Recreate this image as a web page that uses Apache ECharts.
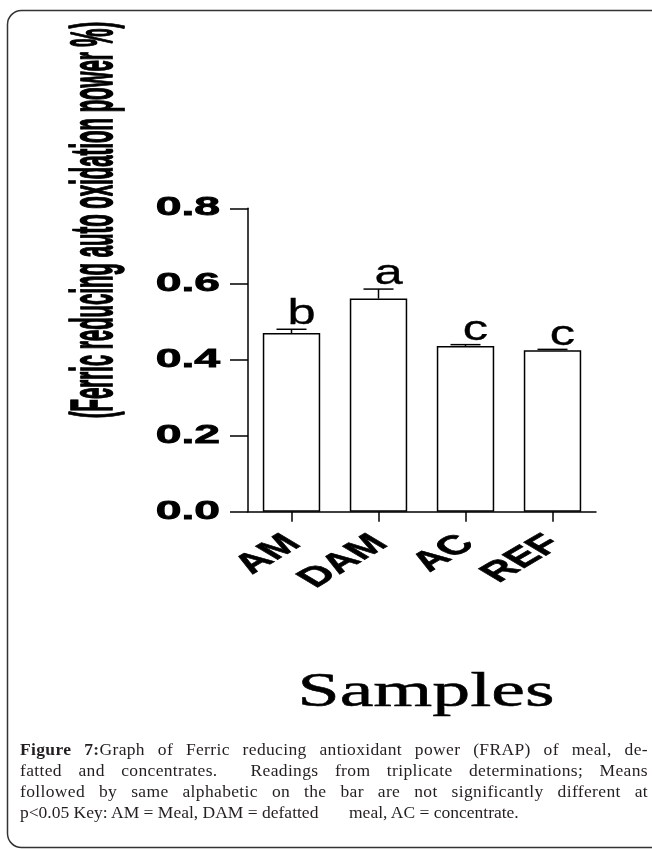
<!DOCTYPE html>
<html>
<head>
<meta charset="utf-8">
<title>Ferric reducing antioxidant power</title>
<script src="https://cdn.jsdelivr.net/npm/echarts@6/dist/echarts.min.js"></script>
<style>
  html, body { margin: 0; padding: 0; background: #fff; overflow: hidden; }
  #chart { position: absolute; left: 0; top: 0; width: 652px; height: 849px; }
  #caption {
    position: absolute; left: 20px; top: 739px; width: 628px;
    font-family: "Liberation Serif", "DejaVu Serif", serif;
    font-size: 17.5px; line-height: 21px; color: #231f20;
  }
  #caption .j { text-align: justify; text-align-last: justify; letter-spacing: 0.35px; }
  #caption b { font-weight: bold; }
</style>
</head>
<body>
<div id="chart"></div>
<div id="caption">
  <div class="j"><b>Figure 7:</b>Graph of Ferric reducing antioxidant power (FRAP) of meal, de-</div>
  <div class="j">fatted and concentrates.&nbsp; Readings from triplicate determinations; Means</div>
  <div class="j">followed by same alphabetic on the bar are not significantly different at</div>
  <div>p&lt;0.05 Key: AM = Meal, DAM = defatted &nbsp;&nbsp;&nbsp;&nbsp;&nbsp;&nbsp;meal, AC = concentrate.</div>
</div>
<script>
// Sample groups and FRAP readings (mean and upper error)
const categories = ['AM', 'DAM', 'AC', 'REF'];
const means = [0.471, 0.562, 0.437, 0.426];
const errors = [0.010, 0.025, 0.0035, 0.002];
const letters = ['b', 'a', 'c', 'c'];

// Value axis ticks and their printed labels
const yTicks = [0, 0.2, 0.4, 0.6, 0.8];
const yTickLabels = ['0.0', '0.2', '0.4', '0.6', '0.8'];

const yTitle = '(Ferric reducing auto oxidation power %)';
const xTitle = 'Samples';

const chart = echarts.init(document.getElementById('chart'), null, { renderer: 'canvas' });

const axisLineStyle = { color: '#000', width: 1.5 };

const option = {
  backgroundColor: 'transparent',
  animation: false,
  grid: {
    left: 248, top: 208.3, width: 348, height: 303.4,
    containLabel: false, outerBoundsMode: 'none'
  },
  xAxis: {
    type: 'category',
    data: categories,
    axisLine: { show: true, lineStyle: axisLineStyle },
    axisTick: { show: true, alignWithLabel: true, length: 10, lineStyle: axisLineStyle },
    axisLabel: { show: false },
    splitLine: { show: false }
  },
  yAxis: {
    type: 'value',
    min: 0, max: 0.8, interval: 0.2,
    axisLine: { show: true, lineStyle: axisLineStyle },
    axisTick: { show: true, length: 18, lineStyle: axisLineStyle },
    axisLabel: { show: false },
    splitLine: { show: false }
  },
  series: [
    {
      type: 'bar',
      data: means,
      barWidth: '66%',
      itemStyle: { color: '#fff', borderColor: '#000', borderWidth: 1.5 },
      silent: true
    },
    {
      // upper error bar with cap, plus the significance letter above it
      type: 'custom',
      data: categories.map((c, i) => [i, means[i], errors[i]]),
      z: 5,
      silent: true,
      renderItem: function (params, api) {
        const i = api.value(0);
        const m = api.value(1);
        const e = api.value(2);
        const base = api.coord([i, m]);
        const top = api.coord([i, m + e]);
        const half = 15;
        return {
          type: 'group',
          children: [
            { type: 'line', shape: { x1: base[0], y1: base[1], x2: top[0], y2: top[1] },
              style: { stroke: '#000', lineWidth: 1.5 } },
            { type: 'line', shape: { x1: top[0] - half, y1: top[1], x2: top[0] + half, y2: top[1] },
              style: { stroke: '#000', lineWidth: 1.5 } },
            { type: 'text', x: top[0] + 10, y: top[1] + 3, scaleX: 1.45,
              style: { text: letters[params.dataIndex], fill: '#000',
                       font: '35px "Liberation Sans", Arial, sans-serif',
                       stroke: '#000', lineWidth: 0.3,
                       align: 'center', verticalAlign: 'bottom' } }
          ]
        };
      }
    }
  ]
};

chart.setOption(option);

// Axis texts are drawn as wide, stretched glyphs placed from the axis scales
const axisY0 = chart.convertToPixel({ yAxisIndex: 0 }, 0);
const graphics = [];

graphics.push({
  type: 'rect', silent: true,
  shape: { x: 7.5, y: 10.5, width: 700, height: 837, r: 14 },
  style: { fill: 'none', stroke: '#333', lineWidth: 1.5 }
});

yTicks.forEach(function (v, i) {
  const py = chart.convertToPixel({ yAxisIndex: 0 }, v);
  graphics.push({
    type: 'text', x: 220, y: py, scaleX: 1.78, silent: true,
    style: { text: yTickLabels[i], fill: '#000',
             font: 'bold 26px "Liberation Sans", Arial, sans-serif',
             stroke: '#000', lineWidth: 0.8,
             align: 'right', verticalAlign: 'middle' }
  });
});

categories.forEach(function (c, i) {
  const px = chart.convertToPixel({ xAxisIndex: 0 }, i);
  graphics.push({
    type: 'group', x: px + 2, y: axisY0 + 28, scaleX: 1.7, silent: true,
    children: [{
      type: 'text', rotation: Math.PI / 4,
      style: { text: c, fill: '#000',
               font: 'bold 27px "Liberation Sans", Arial, sans-serif',
               stroke: '#000', lineWidth: 0.6,
               align: 'right', verticalAlign: 'middle' }
    }]
  });
});

graphics.push({
  type: 'group', x: 96, y: 220, scaleX: 2.88, silent: true,
  children: [{
    type: 'text', rotation: Math.PI / 2,
    style: { text: yTitle, fill: '#000',
             font: 'bold 20.4px "Liberation Sans", Arial, sans-serif',
             stroke: '#000', lineWidth: 0.6,
             align: 'center', verticalAlign: 'middle' }
  }]
});

graphics.push({
  type: 'text', x: 426, y: 717, scaleX: 1.58, silent: true,
  style: { text: xTitle, fill: '#000',
           font: '48px "Liberation Serif", "Times New Roman", serif',
           stroke: '#000', lineWidth: 0.5,
           align: 'center', verticalAlign: 'bottom' }
});

chart.setOption({ graphic: graphics });
</script>
</body>
</html>
